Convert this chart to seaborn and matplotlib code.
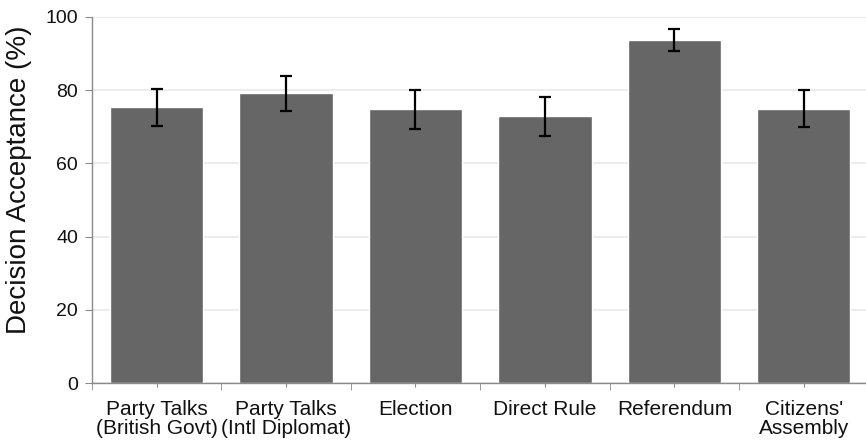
import matplotlib
matplotlib.use("Agg")
import matplotlib.pyplot as plt
import seaborn as sns
import pandas as pd
from matplotlib.ticker import FixedLocator

# values
conditions = ["Party Talks\n(British Govt)", "Party Talks\n(Intl Diplomat)", "Election",
              "Direct Rule", "Referendum", "Citizens'\nAssembly"]
acceptance = [75.3, 79.1, 74.8, 72.9, 93.7, 74.9]
ci = [5.0, 4.7, 5.3, 5.3, 2.9, 5.0]

df = pd.DataFrame({"condition": conditions, "acceptance": acceptance})

sns.set_style("white")
plt.rcParams["font.family"] = ["Liberation Sans", "DejaVu Sans"]

fig = plt.figure(figsize=(8.66, 4.44), dpi=100)
ax = fig.add_axes([0.106, 0.137, 0.897, 0.825])

sns.barplot(data=df, x="condition", y="acceptance", color="#666666", saturation=1,
            width=0.72, errorbar=None, ax=ax, zorder=2)
ax.errorbar(range(len(conditions)), acceptance, yerr=ci, fmt="none", ecolor="black",
            elinewidth=1.6, capsize=4, capthick=1.6, zorder=3)

ax.set_ylim(0, 100)
ax.set_xlim(-0.5, len(conditions) - 0.5)
ax.set_yticks(range(0, 101, 20))
ax.yaxis.grid(True, color="#e9e9e9", linewidth=1.2, zorder=0)
ax.set_axisbelow(True)

ax.set_xlabel("")
ax.set_ylabel("Decision Acceptance (%)", fontsize=20, color="#111111")
ax.yaxis.set_label_coords(-0.077, 0.555)

for side in ["top", "right"]:
    ax.spines[side].set_visible(False)
for side in ["left", "bottom"]:
    ax.spines[side].set_color("#8a8a8a")
    ax.spines[side].set_linewidth(1.0)

ax.tick_params(axis="y", labelsize=14, length=5, color="#8a8a8a", left=True, pad=5,
               labelcolor="#111111")
ax.tick_params(axis="x", labelsize=15, length=3, color="#8a8a8a", bottom=True, pad=9,
               labelcolor="#111111")
for lbl in ax.get_xticklabels():
    lbl.set_linespacing(1.0)
ax.xaxis.set_minor_locator(FixedLocator([i + 0.5 for i in range(-1, len(conditions))]))
ax.tick_params(axis="x", which="minor", length=5, color="#8a8a8a", bottom=True)

fig.savefig("out.png", dpi=100)
